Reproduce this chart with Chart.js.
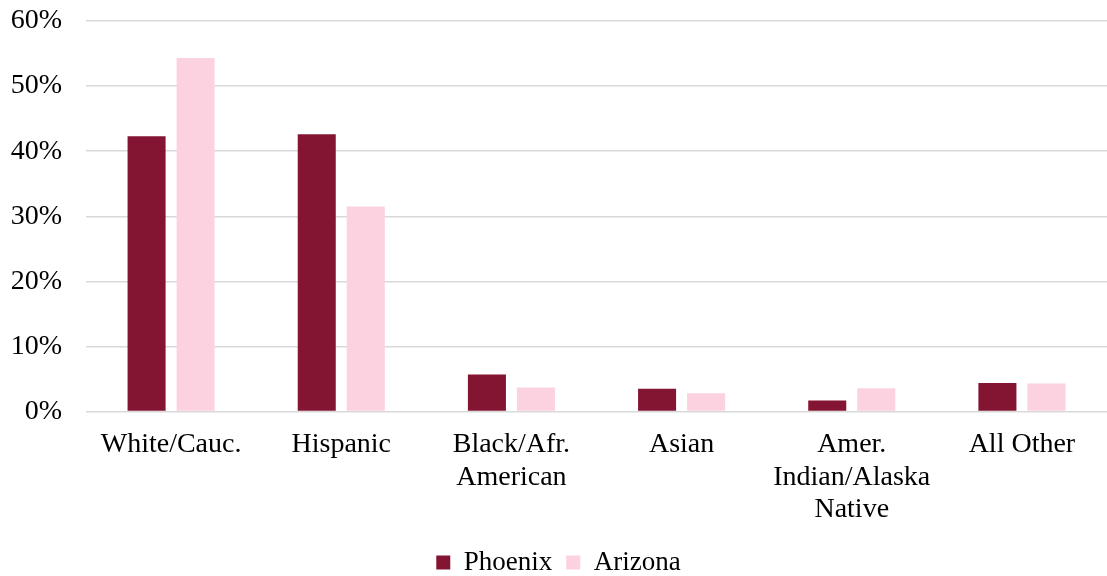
<!DOCTYPE html>
<html>
<head>
<meta charset="utf-8">
<script src="https://cdn.jsdelivr.net/npm/chart.js@4"></script>
<style>
  html, body { margin: 0; padding: 0; background: #ffffff; }
  #wrap { width: 1107px; height: 576px; position: relative; }
</style>
</head>
<body>
<div id="wrap"><canvas id="ethnicityChart"></canvas></div>
<script>
// Categories (multi-line labels as arrays)
const categories = [
    'White/Cauc.',
    'Hispanic',
    ['Black/Afr.', 'American'],
    'Asian',
    ['Amer.', 'Indian/Alaska', 'Native'],
    'All Other'
];

// Share of population, percent
const phoenixValues = [42.3, 42.6, 5.7, 3.5, 1.7, 4.4];
const arizonaValues = [54.3, 31.5, 3.7, 2.8, 3.6, 4.3];

const yTicks = [0, 10, 20, 30, 40, 50, 60];

const serif = "'Liberation Serif', 'Times New Roman', serif";

document.addEventListener('DOMContentLoaded', function() {
    const ctx = document.getElementById('ethnicityChart');
    new Chart(ctx, {
        type: 'bar',
        data: {
            labels: categories,
            datasets: [{
                label: 'Phoenix',
                data: phoenixValues,
                backgroundColor: '#841532',
                categoryPercentage: 0.576,
                barPercentage: 0.776
            }, {
                label: 'Arizona',
                data: arizonaValues,
                backgroundColor: '#fdd2e0',
                categoryPercentage: 0.576,
                barPercentage: 0.776
            }]
        },
        options: {
            responsive: true,
            maintainAspectRatio: false,
            animation: false,
            layout: {
                padding: { top: 0, left: 10, right: 0, bottom: -10 }
            },
            plugins: {
                legend: {
                    position: 'bottom',
                    labels: {
                        color: '#000000',
                        font: { family: serif, size: 27 },
                        boxWidth: 14,
                        boxHeight: 14,
                        padding: 14
                    }
                },
                tooltip: { enabled: false }
            },
            scales: {
                x: {
                    grid: { display: false },
                    border: { display: false },
                    ticks: {
                        color: '#000000',
                        font: { family: serif, size: 28, lineHeight: 1.16 },
                        maxRotation: 0,
                        autoSkip: false,
                        padding: 9
                    }
                },
                y: {
                    min: 0,
                    max: 60,
                    afterBuildTicks: function(axis) {
                        axis.ticks = yTicks.map(v => ({ value: v }));
                    },
                    afterFit: function(axis) {
                        axis.width = 76;
                        axis.paddingTop = 21;
                    },
                    grid: {
                        color: '#d9d9d9',
                        lineWidth: 1.5,
                        drawTicks: false
                    },
                    border: { display: false },
                    ticks: {
                        color: '#000000',
                        font: { family: serif, size: 28 },
                        padding: 24,
                        callback: function(value) {
                            return value + '%';
                        }
                    }
                }
            }
        }
    });
});
</script>
</body>
</html>
